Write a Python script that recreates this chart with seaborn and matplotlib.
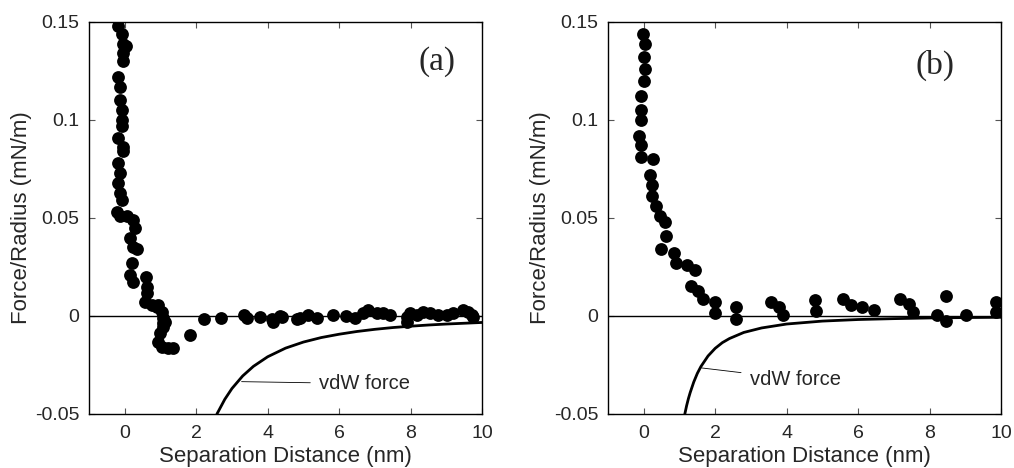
import matplotlib
matplotlib.use("Agg")
import matplotlib.pyplot as plt
import seaborn as sns
import pandas as pd

# panel (a) measured points
a_x = [-0.18, -0.08, -0.04, 0.04, -0.04, -0.04, -0.18, -0.13, -0.13, -0.08, -0.08, -0.08,
       -0.18, -0.04, -0.04, -0.18, -0.13, -0.18, -0.13, -0.08, -0.21, -0.13, 0.06, 0.24,
       0.29, 0.15, 0.24, 0.34, 0.20, 0.15, 0.24, 0.60, 0.62, 0.62, 0.57, 0.76, 0.90, 0.94,
       1.03, 1.08, 1.13, 1.08, 1.08, 0.99, 0.94, 1.03, 1.22, 1.36, 1.83, 2.22, 2.69,
       3.34, 3.41, 3.79, 4.11, 4.16, 4.35, 4.39, 4.81, 4.90, 5.14, 5.37, 5.84, 6.20,
       6.45, 6.68, 6.82, 7.05, 7.24, 7.42, 7.89, 7.89, 7.99, 8.17, 8.36, 8.55, 8.78,
       9.01, 9.20, 9.48, 9.62, 9.71, 9.76]
a_y = [0.148, 0.144, 0.139, 0.138, 0.134, 0.130, 0.122, 0.117, 0.110, 0.105, 0.100, 0.097,
       0.091, 0.086, 0.084, 0.078, 0.073, 0.068, 0.063, 0.059, 0.053, 0.051, 0.051, 0.049,
       0.045, 0.040, 0.035, 0.034, 0.027, 0.021, 0.0175, 0.020, 0.015, 0.0116, 0.0073, 0.0056,
       0.0047, 0.0056, 0.0022, -0.0012, -0.0029, -0.0037, -0.0055, -0.0088, -0.0131, -0.0157,
       -0.0165, -0.0165, -0.0097, -0.0017, -0.0012,
       0.0005, -0.0012, -0.0007, -0.0017, -0.0029, 0.0, -0.0003, -0.0017, -0.0012, 0.0005,
       -0.0012, 0.0005, 0.0, -0.0012, 0.0014, 0.0031, 0.0014, 0.0014, 0.0005, -0.0003,
       -0.0029, 0.0014, 0.0005, 0.0022, 0.0014, 0.0005, 0.0005, 0.0014, 0.0031, 0.0022,
       0.0005, -0.0003]

# panel (b) measured points
b_x = [-0.02, 0.03, 0.00, 0.03, 0.00, -0.09, -0.09, -0.09, -0.13, -0.09, -0.09, 0.26,
       0.17, 0.24, 0.24, 0.34, 0.45, 0.59, 0.62, 0.49, 0.84, 0.90, 1.21, 1.43, 1.31, 1.52,
       1.66, 1.99, 1.99, 2.57, 2.57, 3.57, 3.79, 3.90, 4.79, 4.83, 5.58, 5.81, 6.12, 6.44,
       7.16, 7.43, 7.54, 8.21, 8.45, 8.45, 9.03, 9.85, 9.87]
b_y = [0.144, 0.139, 0.132, 0.126, 0.120, 0.112, 0.105, 0.100, 0.092, 0.087, 0.081, 0.080,
       0.072, 0.067, 0.061, 0.056, 0.051, 0.048, 0.041, 0.034, 0.032, 0.027, 0.026, 0.0235,
       0.0155, 0.0128, 0.0085, 0.0073, 0.0014, 0.0044, -0.0017, 0.0073, 0.0044, 0.0005,
       0.0082, 0.0027, 0.0085, 0.0056, 0.0044, 0.0031, 0.0085, 0.0061, 0.0022, 0.0005,
       0.0102, -0.0026, 0.0005, 0.0073, 0.0022]

# vdW curves
vdw_a_x = [2.58, 2.8, 3.0, 3.3, 3.6, 4.0, 4.5, 5.0, 5.5, 6.0, 6.5, 7.0, 7.5, 8.0, 8.5, 9.0, 9.5, 10.0]
vdw_a_y = [-0.050, -0.0425, -0.037, -0.0306, -0.0257, -0.0208, -0.0164, -0.0133, -0.0110,
           -0.0093, -0.0079, -0.0068, -0.0059, -0.0052, -0.0046, -0.0041, -0.0037, -0.0033]
vdw_b_x = [1.15, 1.2, 1.25, 1.3, 1.4, 1.5, 1.6, 1.8, 2.0, 2.2, 2.4, 2.8, 3.3, 4.0, 5.0, 6.0, 7.0, 8.0, 9.0, 10.0]
vdw_b_y = [-0.050, -0.0458, -0.0422, -0.0391, -0.0337, -0.0293, -0.0258, -0.0204, -0.0165,
           -0.0136, -0.0115, -0.0084, -0.0061, -0.0041, -0.0026, -0.0018, -0.00135, -0.0010,
           -0.0008, -0.00066]

x_ticks = [0, 2, 4, 6, 8, 10]
y_ticks = [-0.05, 0, 0.05, 0.1, 0.15]
y_tick_labels = ['-0.05', '0', '0.05', '0.1', '0.15']

sns.set_theme(style="ticks")
plt.rcParams['font.family'] = ['Liberation Sans', 'DejaVu Sans']

fig = plt.figure(figsize=(10.14, 4.68), dpi=100)
ax_a = fig.add_axes([0.0878, 0.1154, 0.3876, 0.8376])
ax_b = fig.add_axes([0.5996, 0.1154, 0.3876, 0.8376])

panels = [
    (ax_a, a_x, a_y, vdw_a_x, vdw_a_y, '(a)', (0.885, 0.898), (3.27, -0.0335), (5.44, -0.0345)),
    (ax_b, b_x, b_y, vdw_b_x, vdw_b_y, '(b)', (0.832, 0.890), (1.62, -0.0265), (2.97, -0.0322)),
]

for ax, px, py, vx, vy, tag, tag_pos, arrow_xy, text_xy in panels:
    ax.axhline(0, color='black', lw=1.0, zorder=1)
    sns.lineplot(x=vx, y=vy, ax=ax, color='black', lw=2.0, sort=False, estimator=None, zorder=2)
    sns.scatterplot(x=px, y=py, ax=ax, color='black', s=85, edgecolor='black', linewidth=0, zorder=3)

    ax.annotate('vdW force', xy=arrow_xy, xytext=text_xy, fontsize=14.5, va='center', ha='left',
                arrowprops=dict(arrowstyle='-', color='black', lw=0.6, shrinkA=4, shrinkB=0))
    ax.text(tag_pos[0], tag_pos[1], tag, transform=ax.transAxes, ha='center', va='center',
            fontsize=24, family=['Liberation Serif', 'DejaVu Serif'])

    ax.set_xlim(-1, 10)
    ax.set_ylim(-0.05, 0.15)
    ax.set_xticks(x_ticks)
    ax.set_xticklabels([str(t) for t in x_ticks], fontsize=14)
    ax.set_yticks(y_ticks)
    ax.set_yticklabels(y_tick_labels, fontsize=14)
    ax.tick_params(direction='in', top=True, right=True, length=4, width=0.8, color='#555555')
    ax.tick_params(axis='x', pad=8)
    ax.tick_params(axis='y', pad=7)
    for sp in ax.spines.values():
        sp.set_color('black')
        sp.set_linewidth(1.0)
    ax.set_xlabel('Separation Distance (nm)', fontsize=16, labelpad=3)
    ax.set_ylabel('Force/Radius (mN/m)', fontsize=16, labelpad=2)

fig.savefig('out.png', dpi=100)
